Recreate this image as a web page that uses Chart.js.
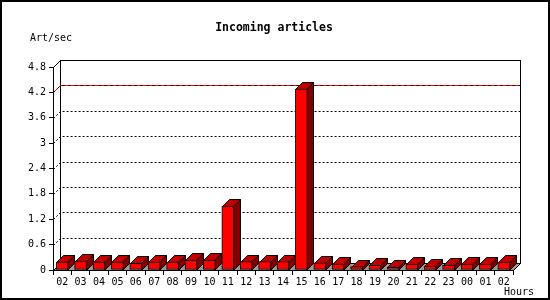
<!DOCTYPE html>
<html lang="en">
<head>
    <meta charset="UTF-8">
    <title>Incoming articles</title>
    <script src="https://cdn.jsdelivr.net/npm/chart.js"></script>
    <style>
        html, body { margin: 0; padding: 0; background: #fff; }
        #wrap { width: 550px; height: 300px; }
    </style>
</head>
<body>
    <div id="wrap"><canvas id="articlesChart" width="550" height="300"></canvas></div>

    <script>
        // Data
        const hours = ['02', '03', '04', '05', '06', '07', '08', '09', '10', '11', '12', '13', '14',
                       '15', '16', '17', '18', '19', '20', '21', '22', '23', '00', '01', '02'];
        const artPerSec = [0.19, 0.21, 0.19, 0.19, 0.16, 0.19, 0.19, 0.23, 0.23, 1.51, 0.20, 0.20, 0.20,
                           4.28, 0.17, 0.14, 0.08, 0.11, 0.06, 0.14, 0.09, 0.11, 0.14, 0.14, 0.19];
        const yTicks = [0, 0.6, 1.2, 1.8, 2.4, 3, 3.6, 4.2, 4.8];
        const yTickLabels = ['0', '0.6', '1.2', '1.8', '2.4', '3', '3.6', '4.2', '4.8'];
        const markedLevel = 4.2;

        const DEPTH = 7;
        const MONO = '"DejaVu Sans Mono", "Liberation Mono", monospace';

        // draws the 3D box, floor, grid and the top/side faces of bars
        const threeD = {
            id: 'threeD',
            beforeDatasetsDraw(chart) {
                const ctx = chart.ctx;
                const a = chart.chartArea;
                const y = chart.scales.y;
                const L = Math.round(a.left) + 0.5, R = Math.round(a.right) + 0.5;
                const T = Math.round(a.top) + 0.5, B = Math.round(a.bottom) + 0.5;
                ctx.save();
                ctx.lineWidth = 1;
                ctx.strokeStyle = '#000';

                // back wall
                ctx.strokeRect(L + DEPTH, T - DEPTH, R - L, B - T);
                ctx.beginPath();
                ctx.moveTo(L, T);
                ctx.lineTo(L + DEPTH, T - DEPTH);
                ctx.stroke();

                // grid lines on the back wall
                yTicks.forEach(v => {
                    if (v === yTicks[0] || v === yTicks[yTicks.length - 1]) return;
                    const yf = Math.round(y.getPixelForValue(v)) + 0.5;
                    const path = () => {
                        ctx.beginPath();
                        ctx.moveTo(L, yf);
                        ctx.lineTo(L + DEPTH, yf - DEPTH);
                        ctx.lineTo(R + DEPTH, yf - DEPTH);
                    };
                    if (v === markedLevel) {
                        ctx.setLineDash([]);
                        ctx.strokeStyle = '#ff0000';
                        path();
                        ctx.stroke();
                        ctx.setLineDash([2, 4]);
                    } else {
                        ctx.setLineDash([2, 2]);
                    }
                    ctx.strokeStyle = '#000';
                    path();
                    ctx.stroke();
                });
                ctx.setLineDash([]);

                // floor
                ctx.beginPath();
                ctx.moveTo(L, B);
                ctx.lineTo(R, B);
                ctx.lineTo(R + DEPTH, B - DEPTH);
                ctx.lineTo(L + DEPTH, B - DEPTH);
                ctx.closePath();
                ctx.fillStyle = '#999999';
                ctx.fill();
                ctx.stroke();

                // top and side faces of each bar
                chart.getDatasetMeta(0).data.forEach(bar => {
                    const left = Math.round(bar.x - bar.width / 2) + 0.5;
                    const right = Math.round(bar.x + bar.width / 2) - 0.5;
                    const top = Math.round(bar.y) + 0.5;
                    const base = Math.round(bar.base) + 0.5;
                    ctx.beginPath();
                    ctx.moveTo(right, top);
                    ctx.lineTo(right + DEPTH, top - DEPTH);
                    ctx.lineTo(right + DEPTH, base - DEPTH);
                    ctx.lineTo(right, base);
                    ctx.closePath();
                    ctx.fillStyle = '#800000';
                    ctx.fill();
                    ctx.stroke();

                    ctx.beginPath();
                    ctx.moveTo(left, top);
                    ctx.lineTo(left + DEPTH, top - DEPTH);
                    ctx.lineTo(right + DEPTH, top - DEPTH);
                    ctx.lineTo(right, top);
                    ctx.closePath();
                    ctx.fillStyle = '#c00000';
                    ctx.fill();
                    ctx.stroke();
                });
                ctx.restore();
            },
            afterDraw(chart) {
                const ctx = chart.ctx;
                ctx.save();
                ctx.fillStyle = '#000';
                ctx.textBaseline = 'middle';
                ctx.font = 'bold 11.5px ' + MONO;
                ctx.textAlign = 'center';
                ctx.fillText('Incoming articles', 274, 28);
                ctx.font = '10px ' + MONO;
                ctx.textAlign = 'left';
                ctx.fillText('Art/sec', 30, 38);
                ctx.fillText('Hours', 504, 292);
                // frame
                ctx.lineWidth = 2;
                ctx.strokeStyle = '#000';
                ctx.strokeRect(1, 1, 548, 298);
                ctx.restore();
            }
        };

        new Chart(document.getElementById('articlesChart'), {
            type: 'bar',
            data: {
                labels: hours,
                datasets: [{
                    label: 'Art/sec',
                    data: artPerSec,
                    backgroundColor: '#ff0000',
                    borderColor: '#000',
                    borderWidth: 1,
                    borderSkipped: false,
                    barThickness: 12
                }]
            },
            options: {
                responsive: false,
                animation: false,
                devicePixelRatio: 1,
                layout: { padding: { top: 67, right: 37, left: 0, bottom: 0 } },
                plugins: {
                    legend: { display: false },
                    title: { display: false },
                    tooltip: { enabled: false }
                },
                scales: {
                    x: {
                        afterFit: s => { s.height = 30; },
                        grid: { drawOnChartArea: false, drawTicks: true, tickLength: 5, color: '#000', offset: true },
                        border: { display: true, color: '#000' },
                        ticks: {
                            color: '#000',
                            font: { family: MONO, size: 10 },
                            padding: 1,
                            maxRotation: 0,
                            autoSkip: false
                        }
                    },
                    y: {
                        min: 0,
                        max: 4.8,
                        afterFit: s => { s.width = 53; },
                        afterBuildTicks: s => { s.ticks = yTicks.map(v => ({ value: v })); },
                        grid: { drawOnChartArea: false, drawTicks: true, tickLength: 4, color: '#000' },
                        border: { display: true, color: '#000' },
                        ticks: {
                            color: '#000',
                            font: { family: MONO, size: 10 },
                            padding: 3,
                            callback: (v, i) => yTickLabels[i]
                        }
                    }
                }
            },
            plugins: [threeD]
        });
    </script>
</body>
</html>
